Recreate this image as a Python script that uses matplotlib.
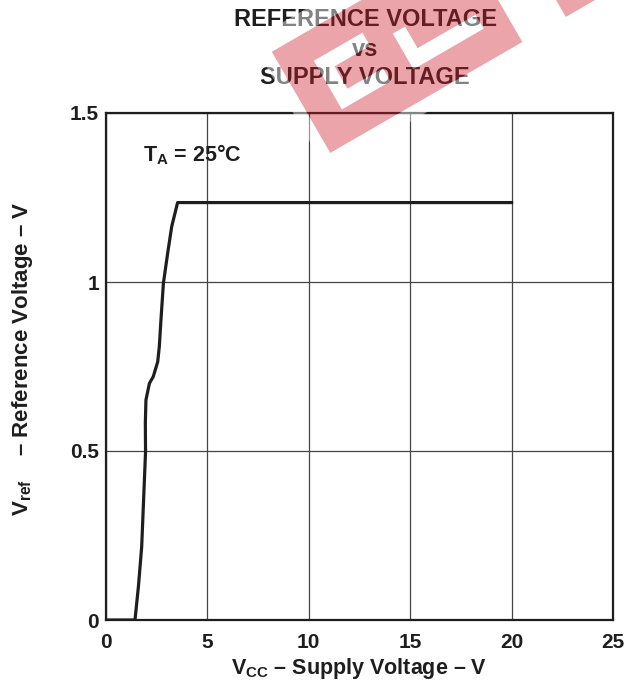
import numpy as np
import matplotlib.pyplot as plt
from matplotlib.patches import PathPatch, Polygon
from matplotlib.path import Path

plt.rcParams['font.family'] = ['Liberation Sans', 'DejaVu Sans']
plt.rcParams['font.weight'] = 'bold'
plt.rcParams['mathtext.fontset'] = 'custom'
plt.rcParams['mathtext.rm'] = 'Liberation Sans:bold'
plt.rcParams['mathtext.bf'] = 'Liberation Sans:bold'
plt.rcParams['mathtext.it'] = 'Liberation Sans:bold'

# Vref vs Vcc, TA = 25 C
vcc = [0, 1.43, 1.6, 1.76, 1.95, 1.94, 1.97, 2.14, 2.33, 2.55, 2.63, 2.71,
       2.83, 3.04, 3.24, 3.53, 20]
vref = [0, 0, 0.1, 0.217, 0.498, 0.583, 0.651, 0.70, 0.72, 0.764, 0.81,
        0.888, 0.996, 1.085, 1.164, 1.235, 1.235]

x_ticks = [0, 5, 10, 15, 20, 25]
x_tick_labels = ['0', '5', '10', '15', '20', '25']
y_ticks = [0, 0.5, 1, 1.5]
y_tick_labels = ['0', '0.5', '1', '1.5']

W, H = 624, 686
ink = '#1e1e1e'
fig = plt.figure(figsize=(W / 100, H / 100), dpi=100)
ax = fig.add_axes([106 / W, 1 - 620 / H, 507 / W, 507 / H])
ax.set_facecolor('none')

ax.plot(vcc, vref, color=ink, lw=2.3, solid_joinstyle='round', zorder=3)

ax.set_xlim(0, 25)
ax.set_ylim(0, 1.5)
ax.set_xticks(x_ticks)
ax.set_xticklabels(x_tick_labels)
ax.set_yticks(y_ticks)
ax.set_yticklabels(y_tick_labels)
ax.tick_params(length=0, labelsize=15, colors=ink)
ax.tick_params(axis='x', pad=9)
ax.tick_params(axis='y', pad=5)
for lab in ax.get_xticklabels() + ax.get_yticklabels():
    lab.set_fontweight('bold')
ax.grid(True, color='#444444', lw=0.9)
for s in ax.spines.values():
    s.set_linewidth(1.6)
    s.set_color(ink)

ax.set_xlabel(r'$\mathregular{V_{CC}}$ – Supply Voltage – V', fontsize=15.5,
              fontweight='bold', color=ink, va='top')
ax.xaxis.set_label_coords(0.5, -(656 - 620) / 507)
ax.set_ylabel(r'$\mathregular{V_{ref}}$    – Reference Voltage – V', fontsize=16,
              fontweight='bold', color=ink)
ax.yaxis.set_label_coords((35 - 106) / 507, 0.515)
ax.text(1.82, 1.376, r'$\mathregular{T_A}$ = 25°C', fontsize=15.5,
        fontweight='bold', color=ink, va='center', ha='left')

cx = 365 / W
for txt, ypx in [('REFERENCE VOLTAGE', 20), ('vs', 50), ('SUPPLY VOLTAGE', 78)]:
    fig.text(cx, 1 - ypx / H, txt, ha='center', va='center',
             fontsize=17, fontweight='bold', color=ink)

# tilted red logo stamp over the heading, laid out in a u/v frame (pixels)
org = np.array([271.7, 51.7])
eu = np.array([np.cos(np.radians(30)), -np.sin(np.radians(30))])
ev = np.array([np.sin(np.radians(30)), np.cos(np.radians(30))])


def to_fig(uv):
    out = []
    for u, v in uv:
        p = org + u * eu + v * ev
        out.append((p[0] / W, 1 - p[1] / H))
    return out


def rect(u0, u1, v0, v1):
    return [(u0, v0), (u1, v0), (u1, v1), (u0, v1)]


def area(pts):
    a = np.array(pts)
    return 0.5 * np.sum(a[:, 0] * np.roll(a[:, 1], -1) - np.roll(a[:, 0], -1) * a[:, 1])


holes = [
    [(32, 29), (88, 29), (88, 44), (47, 44), (47, 70), (88, 70), (88, 85), (32, 85)],
    [(114, 45), (128, 45), (128, 70), (195, 70), (195, 86), (114, 86)],
]
blocks = [rect(0, 222, 0, 117), rect(272, 420, 0, 117)]

verts, codes = [], []
for i, ring in enumerate([blocks[0]] + holes + [blocks[1]]):
    pts = to_fig(ring)
    is_hole = 0 < i <= len(holes)
    if (area(pts) > 0) == is_hole:
        pts = pts[::-1]
    verts += pts + [pts[0]]
    codes += [Path.MOVETO] + [Path.LINETO] * (len(pts) - 1) + [Path.CLOSEPOLY]
fig.patches.append(PathPatch(Path(verts, codes), transform=fig.transFigure,
                             facecolor='#cf1e2b', edgecolor='none',
                             alpha=0.4, zorder=10))

# pale halo around the stamp and in its cut-outs
halo = holes + [rect(-12, 234, -20, 0), rect(-12, 0, 0, 117),
                rect(-12, 234, 117, 130), rect(222, 234, 0, 117),
                rect(260, 272, 0, 117), rect(260, 430, 117, 130)]
for ring in halo:
    fig.patches.append(Polygon(to_fig(ring), closed=True,
                               transform=fig.transFigure, facecolor='white',
                               edgecolor='none', alpha=0.45, zorder=10))

fig.savefig('out.png', dpi=100)
